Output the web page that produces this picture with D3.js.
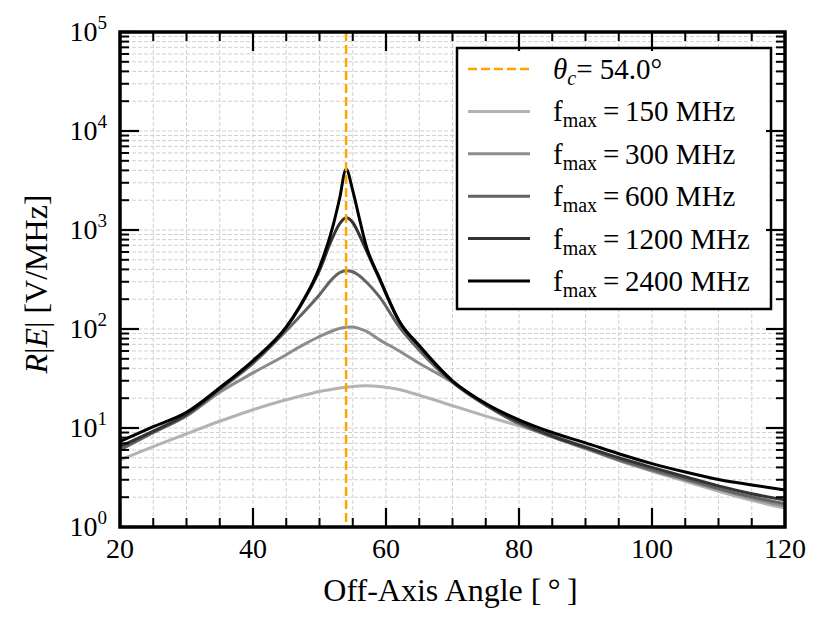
<!DOCTYPE html>
<html><head><meta charset="utf-8">
<script src="https://cdn.jsdelivr.net/npm/d3@7"></script>
<style>
body{margin:0;background:#fff;}
svg{display:block;}
svg text{font-family:"Liberation Serif","DejaVu Serif",serif;}
</style></head>
<body><svg id="c" width="829" height="634" font-family="Liberation Serif, DejaVu Serif, serif"></svg>
<script>
const angles = [20,25,30,35,40,45,47,50,52,53,54,55,56,57,59,62,65,70,75,80,85,90,95,100,105,110,115,120];
const f150  = [4.75,6.5,8.75,11.7,15.3,19.3,20.9,23.4,24.7,25.3,25.8,26.3,26.6,26.7,26.3,24.5,21.4,16.8,13.2,10.5,8.3,6.5,4.9,3.67,2.9,2.3,1.86,1.55];
const f300  = [6.0,9.0,13.2,23,36,55,66,84,96,101,104,105,101,95,78,60,45,29,17.2,11.0,8.1,6.2,4.7,3.7,3.0,2.4,1.95,1.63];
const f600  = [6.0,9.0,13.4,24.5,45,96,133,222,325,370,388,379,345,300,212,105,61,29,17,11.1,8.2,6.3,4.8,3.8,3.05,2.45,2.02,1.72];
const f1200 = [6.5,9.3,13.8,25,47,103,165,390,850,1150,1330,1190,890,630,320,118,67,29.5,17.3,11.5,8.3,6.4,5.0,4.0,3.22,2.6,2.17,1.87];
const f2400 = [7.3,10.3,14.4,25.5,48,105,168,420,1080,2050,4100,2500,1300,700,330,120,68,30,17.7,12.1,9.0,7.08,5.5,4.37,3.59,3.02,2.66,2.37];
const seriesLabels = ["150","300","600","1200","2400"];
const seriesColors = ["#b3b3b3","#8c8c8c","#636363","#333333","#000000"];
const thetaC = 54.0;
const xTicks = [20,40,60,80,100,120];
const yExps = [0,1,2,3,4,5];

const FONT = "Liberation Serif, DejaVu Serif, serif";
const series = [f150,f300,f600,f1200,f2400];
const svg = d3.select("#c");
const L=120,R=785,T=32,B=527;
const x = d3.scaleLinear().domain([20,120]).range([L,R]);
const y = d3.scaleLog().domain([1,1e5]).range([B,T]);

// grid
const xMinor = d3.range(20,121,5);
const yMinor = [];
for(let e=0;e<5;e++) for(let k=1;k<10;k++) yMinor.push(k*Math.pow(10,e));
yMinor.push(1e5);
const grid = svg.append("g");
grid.selectAll("line.gx").data(xMinor).join("line")
  .attr("x1",d=>x(d)).attr("x2",d=>x(d)).attr("y1",T).attr("y2",B)
  .attr("stroke","#d0d0d0").attr("stroke-width",1).attr("stroke-dasharray","4,2");
grid.selectAll("line.gy").data(yMinor).join("line")
  .attr("x1",L).attr("x2",R).attr("y1",d=>y(d)).attr("y2",d=>y(d))
  .attr("stroke","#d0d0d0").attr("stroke-width",1).attr("stroke-dasharray","4,2");

// curves
const line = d3.line().x((d,i)=>x(angles[i])).y(d=>y(d)).curve(d3.curveMonotoneX);
svg.append("g").selectAll("path").data(series).join("path")
  .attr("d",d=>line(d)).attr("fill","none")
  .attr("stroke",(d,i)=>seriesColors[i]).attr("stroke-width",3).attr("stroke-linejoin","round");

// critical angle
svg.append("line").attr("x1",x(thetaC)).attr("x2",x(thetaC)).attr("y1",T).attr("y2",B)
  .attr("stroke","#ffa500").attr("stroke-width",2.5).attr("stroke-dasharray","9,4");

// legend
const lg = svg.append("g").attr("font-family",FONT);
lg.append("rect").attr("x",457).attr("y",48).attr("width",314).attr("height",261)
  .attr("fill","#fff").attr("stroke","#000").attr("stroke-width",2.5);
const rowY = i=>69+i*42.4;
lg.append("line").attr("x1",468).attr("x2",530).attr("y1",rowY(0)).attr("y2",rowY(0))
  .attr("stroke","#ffa500").attr("stroke-width",2.5).attr("stroke-dasharray","9,4");
const t0 = lg.append("text").attr("x",553).attr("y",rowY(0)+10).attr("font-size",29).attr("font-family",FONT);
t0.append("tspan").attr("font-style","italic").text("θ");
t0.append("tspan").attr("font-style","italic").attr("font-size",20).attr("dy",6).text("c");
t0.append("tspan").attr("dy",-6).text("=\u00a054.0°");
seriesLabels.forEach((lab,i)=>{
  const yy=rowY(i+1);
  lg.append("line").attr("x1",468).attr("x2",530).attr("y1",yy).attr("y2",yy)
    .attr("stroke",seriesColors[i]).attr("stroke-width",3);
  const t = lg.append("text").attr("x",553).attr("y",yy+10).attr("font-size",29).attr("font-family",FONT);
  t.append("tspan").text("f");
  t.append("tspan").attr("font-size",20).attr("dy",6).text("max");
  t.append("tspan").attr("dy",-6).text("\u2009=\u2009" + lab + " MHz");
});

// frame and ticks
const ax = svg.append("g");
function tickLines(vals,len,w){
  ax.append("g").selectAll("line").data(vals).join("line")
    .attr("x1",d=>x(d)).attr("x2",d=>x(d)).attr("y1",B).attr("y2",B-len)
    .attr("stroke","#000").attr("stroke-width",w);
  ax.append("g").selectAll("line").data(vals).join("line")
    .attr("x1",d=>x(d)).attr("x2",d=>x(d)).attr("y1",T).attr("y2",T+len)
    .attr("stroke","#000").attr("stroke-width",w);
}
function tickLinesY(vals,len,w){
  ax.append("g").selectAll("line").data(vals).join("line")
    .attr("y1",d=>y(d)).attr("y2",d=>y(d)).attr("x1",L).attr("x2",L+len)
    .attr("stroke","#000").attr("stroke-width",w);
  ax.append("g").selectAll("line").data(vals).join("line")
    .attr("y1",d=>y(d)).attr("y2",d=>y(d)).attr("x1",R).attr("x2",R-len)
    .attr("stroke","#000").attr("stroke-width",w);
}
tickLines(xMinor.filter(d=>d%20!==0),9,2);
tickLines(xTicks,19,2.2);
tickLinesY(yMinor.filter(d=>Math.log10(d)%1!==0),9,2);
tickLinesY(yExps.map(e=>Math.pow(10,e)),19,2.2);
ax.append("rect").attr("x",L).attr("y",T).attr("width",R-L).attr("height",B-T)
  .attr("fill","none").attr("stroke","#000").attr("stroke-width",3.5);

// tick labels
svg.append("g").selectAll("text").data(xTicks).join("text")
  .attr("x",d=>x(d)).attr("y",558).attr("text-anchor","middle").attr("font-size",28)
  .attr("font-family",FONT).text(d=>d);
const yl = svg.append("g").selectAll("text").data(yExps).join("text")
  .attr("x",107).attr("y",d=>y(Math.pow(10,d))+9).attr("text-anchor","end").attr("font-size",28)
  .attr("font-family",FONT);
yl.append("tspan").text("10");
yl.append("tspan").attr("font-size",19).attr("dy",-12).text(d=>d);

// axis titles
svg.append("text").attr("x",(L+R)/2-2).attr("y",601).attr("text-anchor","middle")
  .attr("font-size",32).attr("font-family",FONT).text("Off-Axis Angle [\u2009°\u2009]");
const yt = svg.append("text").attr("transform","translate(47,284) rotate(-90)")
  .attr("text-anchor","middle").attr("font-size",32).attr("font-family",FONT);
yt.append("tspan").attr("font-style","italic").text("R");
yt.append("tspan").text("|");
yt.append("tspan").attr("font-style","italic").text("E");
yt.append("tspan").text("| [V/MHz]");
</script></body></html>
